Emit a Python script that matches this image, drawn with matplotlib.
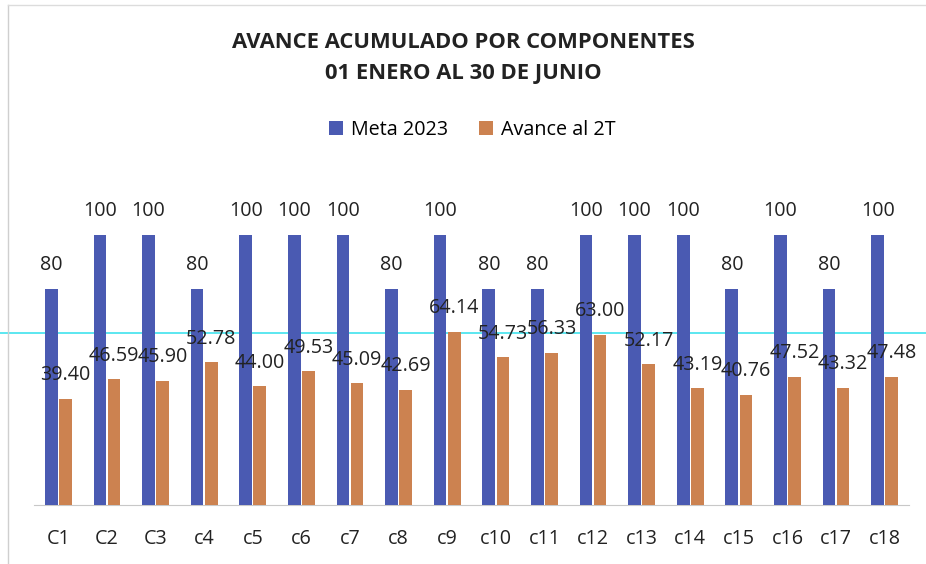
import matplotlib
matplotlib.use("Agg")
import matplotlib.pyplot as plt
from matplotlib.lines import Line2D
import numpy as np

categories = ["C1", "C2", "C3", "c4", "c5", "c6", "c7", "c8", "c9", "c10",
              "c11", "c12", "c13", "c14", "c15", "c16", "c17", "c18"]
meta_2023 = [80, 100, 100, 80, 100, 100, 100, 80, 100, 80,
             80, 100, 100, 100, 80, 100, 80, 100]
avance_2t = [39.40, 46.59, 45.90, 52.78, 44.00, 49.53, 45.09, 42.69, 64.14, 54.73,
             56.33, 63.00, 52.17, 43.19, 40.76, 47.52, 43.32, 47.48]

plt.rcParams['font.family'] = ['Open Sans', 'DejaVu Sans']

W, H = 926, 564
fig = plt.figure(figsize=(W / 100, H / 100), dpi=100)
ax = fig.add_axes([34 / W, 1 - 505 / H, 875 / W, 324 / H])
ax.patch.set_alpha(0)

x = np.arange(len(categories))
bw = 0.26
blue = "#4A5AB2"
orange = "#CC8250"
fs = 14.2

b1 = ax.bar(x - 0.145, meta_2023, bw, color=blue, label="Meta 2023", zorder=3)
b2 = ax.bar(x + 0.145, avance_2t, bw, color=orange, label="Avance al 2T", zorder=3)

for rect, v in zip(b1, meta_2023):
    ax.annotate(f"{v:d}", (rect.get_x() + rect.get_width() / 2, rect.get_height()),
                xytext=(0, 17.5), textcoords="offset points", ha="center", va="center",
                fontsize=fs, color="#222222", zorder=5)
for rect, v in zip(b2, avance_2t):
    ax.annotate(f"{v:.2f}", (rect.get_x() + rect.get_width() / 2, rect.get_height()),
                xytext=(0, 17), textcoords="offset points", ha="center", va="center",
                fontsize=fs, color="#222222", zorder=5)

ax.set_xlim(-0.5, len(categories) - 0.5)
ax.set_ylim(0, 120)
ax.set_yticks([])
ax.set_xticks(x)
ax.set_xticklabels(categories, fontsize=fs, color="#222222")
ax.tick_params(axis="x", length=0, pad=17)
for s in ["top", "right", "left"]:
    ax.spines[s].set_visible(False)
ax.spines["bottom"].set_color("#c8c8c8")

fig.text(0.5, 1 - 42 / H, "AVANCE ACUMULADO POR COMPONENTES", ha="center", va="center",
         fontsize=15.8, fontweight="bold", color="#222222")
fig.text(0.5, 1 - 74 / H, "01 ENERO AL 30 DE JUNIO", ha="center", va="center",
         fontsize=15.8, fontweight="bold", color="#222222")

fig.legend(handles=[b1, b2], loc="center", bbox_to_anchor=(0.51, 1 - 130 / H), ncol=2,
           frameon=False, fontsize=fs, handlelength=0.7, handleheight=0.7,
           handletextpad=0.4, columnspacing=1.6)

# faint outer border of the chart area
fig.add_artist(Line2D([8 / W, 8 / W], [0, 1 - 5 / H], transform=fig.transFigure,
                      color="#cfcfcf", lw=1))
fig.add_artist(Line2D([8 / W, 1], [1 - 5 / H, 1 - 5 / H], transform=fig.transFigure,
                      color="#dcdcdc", lw=1))
# cyan scan line
fig.add_artist(Line2D([0, 1], [1 - 333 / H, 1 - 333 / H], transform=fig.transFigure,
                      color="#3FE3EE", lw=1.2, zorder=-1))

fig.savefig("out.png", dpi=100)
